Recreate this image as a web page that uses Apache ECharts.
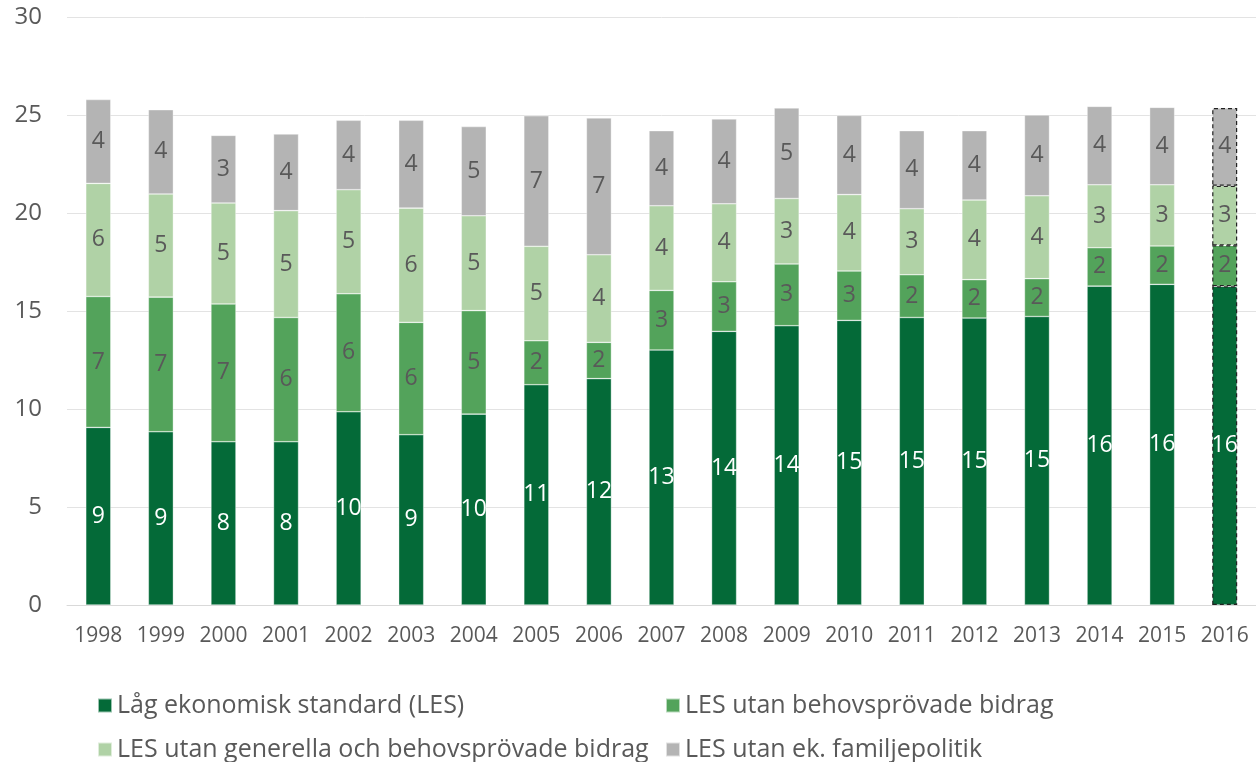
<!DOCTYPE html>
<html>
<head>
<meta charset="utf-8">
<script src="https://cdn.jsdelivr.net/npm/echarts@6/dist/echarts.min.js"></script>
<style>
html,body{margin:0;padding:0;background:#fff;}
#chart{width:1256px;height:762px;}
</style>
</head>
<body>
<div id="chart"></div>
<script>
const years = ['1998','1999','2000','2001','2002','2003','2004','2005','2006','2007','2008','2009','2010','2011','2012','2013','2014','2015','2016'];
const seriesNames = ['Låg ekonomisk standard (LES)','LES utan behovsprövade bidrag','LES utan generella och behovsprövade bidrag','LES utan ek. familjepolitik'];
const lesValues = [9.06, 8.84, 8.33, 8.33, 9.86, 8.69, 9.74, 11.24, 11.55, 13.01, 13.96, 14.25, 14.52, 14.67, 14.64, 14.72, 16.27, 16.36, 16.26];
const utanBehovValues = [6.68, 6.87, 7.03, 6.34, 6.02, 5.73, 5.28, 2.24, 1.85, 3.04, 2.53, 3.15, 2.52, 2.18, 1.96, 1.93, 1.96, 1.96, 2.09];
const utanGenerellaValues = [5.77, 5.26, 5.15, 5.45, 5.31, 5.83, 4.84, 4.82, 4.47, 4.32, 3.98, 3.34, 3.90, 3.37, 4.06, 4.23, 3.21, 3.12, 3.04];
const utanFamiljValues = [4.28, 4.30, 3.45, 3.91, 3.54, 4.48, 4.55, 6.66, 6.98, 3.83, 4.33, 4.62, 4.04, 3.98, 3.54, 4.12, 4.00, 3.95, 3.97];
const yTicks = [0, 5, 10, 15, 20, 25, 30];

const colors = ['#046A38', '#53A35B', '#B0D2A6', '#B4B4B4'];
const labelColors = ['#ffffff', '#595959', '#595959', '#595959'];
const FONT = 'Open Sans';
const dashedYear = '2016';

function makeData(vals) {
  return vals.map((v, i) => {
    if (years[i] === dashedYear) {
      return {value: v, itemStyle: {borderColor: '#222', borderWidth: 1.2, borderType: [4, 3]}};
    }
    return v;
  });
}

const allVals = [lesValues, utanBehovValues, utanGenerellaValues, utanFamiljValues];
const series = allVals.map((vals, k) => ({
  name: seriesNames[k],
  type: 'bar',
  stack: 'total',
  barWidth: 25,
  data: makeData(vals),
  itemStyle: {color: colors[k], borderColor: 'rgba(255,255,255,0.6)', borderWidth: 0.6},
  label: {
    show: true,
    position: 'inside',
    color: labelColors[k],
    fontFamily: FONT,
    fontSize: 23,
    formatter: p => Math.round(p.value)
  },
  emphasis: {disabled: true}
}));

const chart = echarts.init(document.getElementById('chart'), null, {renderer: 'canvas'});
const legendBase = {
  itemWidth: 14, itemHeight: 14, icon: 'rect',
  textStyle: {fontFamily: FONT, fontSize: 25, color: '#595959'},
  selectedMode: false
};
chart.setOption({
  animation: false,
  backgroundColor: '#ffffff',
  grid: {left: 67, width: 1194, top: 17, height: 588},
  xAxis: {
    type: 'category',
    data: years,
    axisLine: {lineStyle: {color: '#d9d9d9'}},
    axisTick: {show: false},
    axisLabel: {color: '#595959', fontFamily: FONT, fontSize: 21, margin: 21}
  },
  yAxis: {
    type: 'value',
    min: yTicks[0], max: yTicks[yTicks.length - 1], interval: 5,
    axisLine: {show: false},
    axisTick: {show: false},
    splitLine: {lineStyle: {color: '#e3e3e3'}},
    axisLabel: {color: '#595959', fontFamily: FONT, fontSize: 24, margin: 25}
  },
  legend: [
    Object.assign({data: [seriesNames[0]], left: 92, top: 688}, legendBase),
    Object.assign({data: [seriesNames[1]], left: 660, top: 688}, legendBase),
    Object.assign({data: [seriesNames[2]], left: 92, top: 732}, legendBase),
    Object.assign({data: [seriesNames[3]], left: 660, top: 732}, legendBase)
  ],
  series: series
});
</script>
</body>
</html>
